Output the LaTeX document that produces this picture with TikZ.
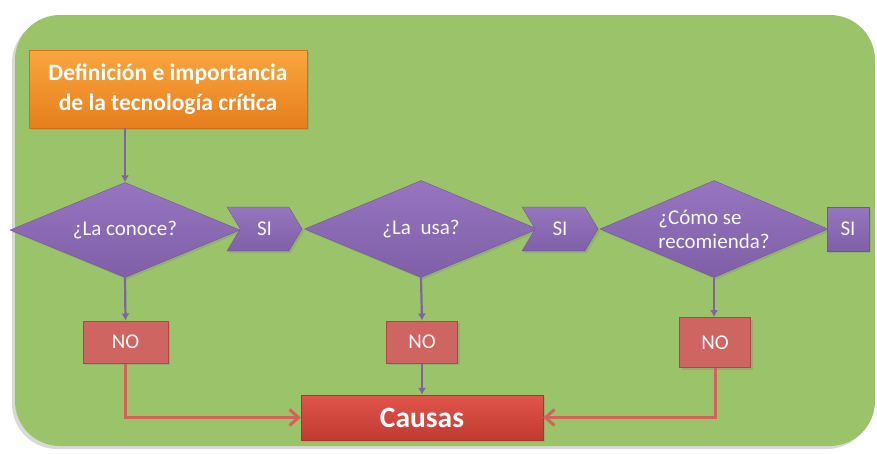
\documentclass[tikz,border=0pt]{standalone}
\usepackage{fontspec}
\setmainfont{Carlito}
\usetikzlibrary{shapes.geometric,shapes.symbols,shadows,arrows.meta}
\definecolor{fondo}{HTML}{9BC36A}
\definecolor{naranja1}{HTML}{FAA63F}
\definecolor{naranja2}{HTML}{E67E1E}
\definecolor{morado1}{HTML}{9775C0}
\definecolor{morado2}{HTML}{7F5FA8}
\definecolor{moradolinea}{HTML}{8064A2}
\definecolor{rojono}{HTML}{CF6560}
\definecolor{rojoborde}{HTML}{B5433F}
\definecolor{rojo1}{HTML}{E2554B}
\definecolor{rojo2}{HTML}{C03A31}
\definecolor{rojolinea}{HTML}{D2635C}
\tikzset{
  sombra/.style={drop shadow={shadow xshift=2pt, shadow yshift=-2pt, opacity=0.3}},
  titulo/.style={rectangle, inner sep=0pt, top color=naranja1, bottom color=naranja2, draw=naranja2!90!black, text=white, align=center, font=\bfseries\fontsize{23.5}{30}\selectfont, sombra},
  pregunta/.style={diamond, aspect=2.4, inner sep=0pt, top color=morado1, bottom color=morado2, draw=morado2!90!black, text=white!94!gray, font=\fontsize{21}{24}\selectfont, sombra},
  flechasi/.style={signal, signal from=west, signal to=east, signal pointer angle=118, inner sep=0pt, top color=morado1, bottom color=morado2, draw=morado2!90!black, text=white!94!gray, font=\fontsize{21}{22}\selectfont, sombra},
  cajasi/.style={rectangle, inner sep=0pt, top color=morado1, bottom color=morado2, draw=morado2!90!black, text=white!94!gray, font=\fontsize{21}{22}\selectfont, sombra},
  cajano/.style={rectangle, inner sep=0pt, fill=rojono, draw=rojoborde, line width=1pt, text=white!94!gray, font=\fontsize{21}{22}\selectfont, sombra},
  causa/.style={rectangle, inner sep=0pt, top color=rojo1, bottom color=rojo2, draw=rojo2!90!black, text=white, font=\bfseries\fontsize{29.5}{32}\selectfont, sombra},
  flechamorada/.style={draw=moradolinea, line width=2.2pt, -{Latex[length=7pt,width=8pt]}},
  flecharoja/.style={draw=rojolinea, line width=3pt, -{Straight Barb[length=9pt,width=16pt]}}
}
\begin{document}
\begin{tikzpicture}[x=1pt, y=-1pt]
  \useasboundingbox (0,0) rectangle (877,453);
  % fondo
  \fill[fondo, rounded corners=45pt, drop shadow={shadow xshift=-3pt, shadow yshift=-3pt, opacity=0.3}] (15,15) rectangle (875,446);

  \node[titulo, minimum width=278pt, minimum height=78pt] (def) at (168,89)
    {Definición e importancia\\de la tecnología crítica};

  % preguntas
  \node[pregunta, minimum width=230pt, minimum height=95pt] (q1) at (125,230) {¿La conoce?};
  \node[flechasi, minimum width=75pt, minimum height=44pt] (si1) at (264.5,229) {SI};
  \node[pregunta, minimum width=233pt, minimum height=97pt] (q2) at (421,229) {¿La\ \ usa?};
  \node[flechasi, minimum width=76pt, minimum height=44pt] (si2) at (560,229) {SI};
  \node[pregunta, minimum width=228pt, minimum height=97pt, align=left] (q3) at (714,229)
    {¿Cómo se\\recomienda?};
  \node[cajasi, minimum width=42pt, minimum height=44pt] (si3) at (848,229) {SI};

  % respuestas NO
  \node[cajano, minimum width=85pt, minimum height=42pt] (no1) at (125.5,342) {NO};
  \node[cajano, minimum width=71pt, minimum height=42pt] (no2) at (422,342) {NO};
  \node[cajano, minimum width=71pt, minimum height=50pt] (no3) at (715,342.5) {NO};

  \node[causa, minimum width=242pt, minimum height=45pt] (causas) at (422,417.5) {Causas};

  % conectores
  \draw[flechamorada] (q1.north |- def.south) -- (q1.north);
  \draw[flechamorada] (q1.south) -- (no1.north);
  \draw[flechamorada] (q2.south) -- (no2.north);
  \draw[flechamorada] (q3.south) -- (no3.north -| q3.south);
  \draw[flechamorada] (no2.south) -- (causas.north);
  \draw[flecharoja] (no1.south) |- (causas.west);
  \draw[flecharoja] (no3.south) |- (causas.east);
\end{tikzpicture}
\end{document}
